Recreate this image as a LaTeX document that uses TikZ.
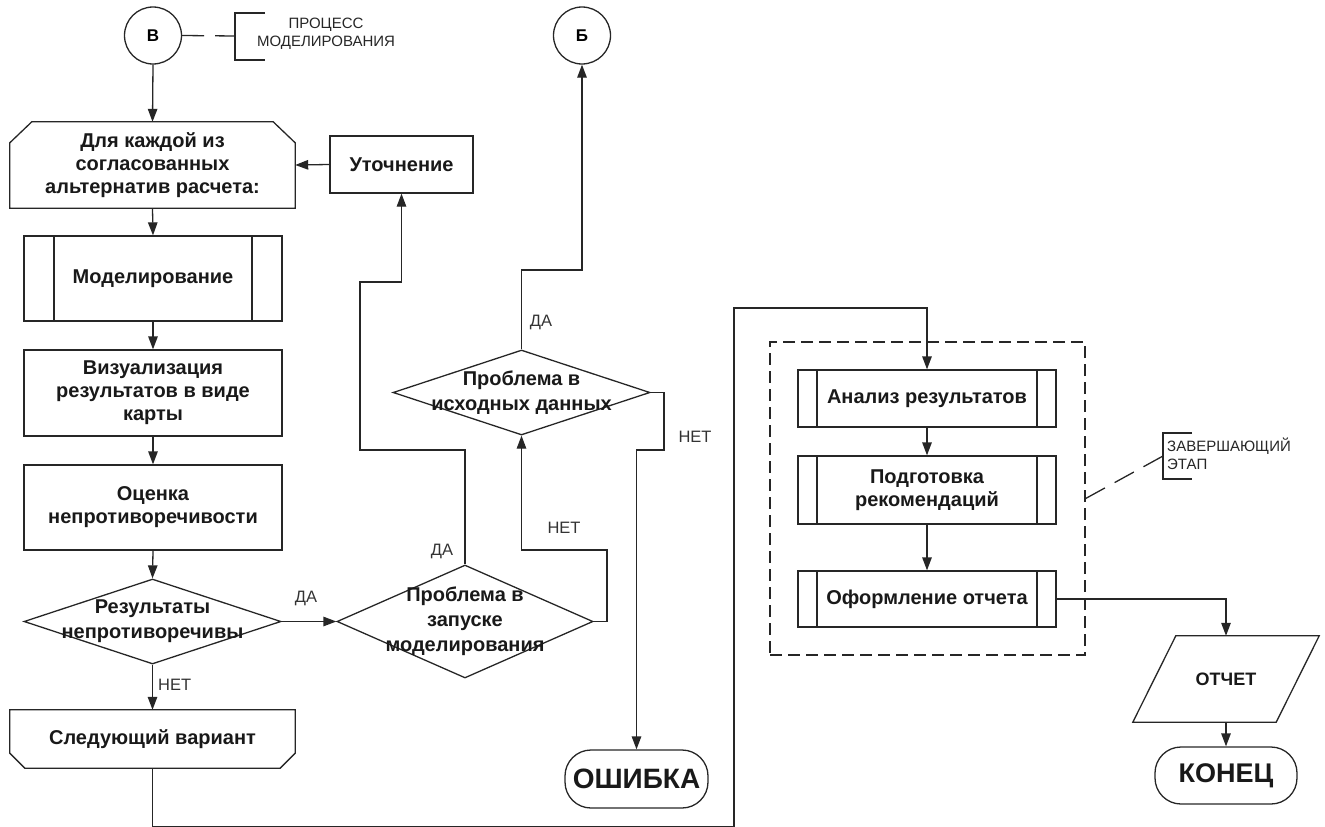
\documentclass[tikz,border=0pt]{standalone}
\usepackage{fontspec}
\setmainfont{Liberation Sans}
\usetikzlibrary{arrows.meta,shapes.geometric}
\begin{document}
\begin{tikzpicture}[x=1pt,y=-1pt,
  ln/.style={line width=1.3pt, draw=black!85},
  arr/.style={ln, -{Triangle[length=13pt,width=9.5pt]}},
  bt/.style={font=\bfseries\fontsize{20}{23}\selectfont, align=center, text=black!90},
  box/.style={bt, rectangle, ln, inner sep=0pt},
  nobox/.style={bt, rectangle, draw=none, inner sep=0pt},
  pp/.style={box, path picture={
     \draw[line width=1.3pt,draw=black!85] ([xshift=#1]path picture bounding box.north west) -- ([xshift=#1]path picture bounding box.south west);
     \draw[line width=1.3pt,draw=black!85] ([xshift=-#1]path picture bounding box.north east) -- ([xshift=-#1]path picture bounding box.south east);}},
  dia/.style={diamond, ln, inner sep=0pt, aspect=1},
  term/.style={box, rounded corners=26pt},
  conn/.style={circle, ln, inner sep=0pt, minimum size=57pt, font=\bfseries\fontsize{17}{20}\selectfont},
  lab/.style={font=\fontsize{16.5}{19}\selectfont, text=black!80, inner sep=0pt},
  ann/.style={font=\fontsize{15}{18}\selectfont, text=black!85, inner sep=0pt},
  grpbox/.style={rectangle, ln, dash pattern=on 12pt off 6pt, inner sep=0pt},
  anndash/.style={ln, dash pattern=on 22pt off 11pt}
]
\useasboundingbox (0,0) rectangle (1325,827);

% connectors circles
\node[conn] (cB) at (153,35.5) {В};
\node[conn] (cBe) at (582,35.5) {Б};

% annotation for В
\node[ann, align=center] (annB) at (326,34) {ПРОЦЕСС\\МОДЕЛИРОВАНИЯ};
\coordinate (brB) at (235,36);
\draw[anndash] (cB.east) -- (brB);
\draw[ln] (265,13) -- (235,13) -- (235,60) -- (265,60);

% left column
\node[nobox, minimum width=285pt, minimum height=86pt] (loop1) at (152.5,165) {Для каждой из\\согласованных\\альтернатив расчета:};
\draw[ln] ([yshift=-21pt]loop1.north west) -- ([xshift=22pt]loop1.north west) -- ([xshift=-22pt]loop1.north east) -- ([yshift=-21pt]loop1.north east) -- (loop1.south east) -- (loop1.south west) -- cycle;

\node[box, minimum width=143pt, minimum height=57pt] (uto) at (401.5,164.5) {Уточнение};
\node[pp=30pt, minimum width=258pt, minimum height=85pt] (mod) at (153,278.5) {Моделирование};
\node[box, minimum width=258pt, minimum height=86pt] (viz) at (153,393) {Визуализация\\результатов в виде\\карты};
\node[box, minimum width=258pt, minimum height=85pt] (ots) at (153,507.5) {Оценка\\непротиворечивости};
\node[dia, minimum width=257pt, minimum height=85pt] (d0) at (152.5,621.5) {};
\node[bt, align=center, inner sep=0pt, font=\bfseries\fontsize{20}{25}\selectfont] at (d0.center) {Результаты\\непротиворечивы};

\node[nobox, minimum width=285pt, minimum height=58pt] (nxt) at (152.5,739) {Следующий вариант};
\draw[ln] (nxt.north west) -- (nxt.north east) -- ([yshift=15pt]nxt.south east) -- ([xshift=-15pt]nxt.south east) -- ([xshift=15pt]nxt.south west) -- ([yshift=15pt]nxt.south west) -- cycle;

% middle diamonds
\node[dia, minimum width=256pt, minimum height=113pt] (d2) at (465,621.5) {};
\node[bt, inner sep=0pt, font=\bfseries\fontsize{20}{25}\selectfont] at (d2.center) {Проблема в\\запуске\\моделирования};
\node[dia, minimum width=257pt, minimum height=85pt] (d1) at (521.5,392.5) {};
\node[bt, inner sep=0pt, font=\bfseries\fontsize{20}{25}\selectfont] at (d1.center) {Проблема в\\исходных данных};

\node[term, minimum width=143pt, minimum height=58pt, font=\bfseries\fontsize{28}{30}\selectfont] (err) at (636.5,779) {ОШИБКА};

% right group
\node[grpbox, minimum width=315pt, minimum height=313pt] (grp) at (927.5,498.5) {};
\node[pp=19pt, minimum width=258pt, minimum height=57pt] (an) at (927,398.5) {Анализ результатов};
\node[pp=19pt, minimum width=258pt, minimum height=68pt] (pod) at (927,490) {Подготовка\\рекомендаций};
\node[pp=19pt, minimum width=258pt, minimum height=56pt] (ofo) at (927,599) {Оформление отчета};

\node[ann, align=left, anchor=west] (annE) at (1167,454) {ЗАВЕРШАЮЩИЙ\\ЭТАП};
\coordinate (brE) at (1163,456);
\draw[anndash] (grp.east) -- (brE);
\draw[ln] (1192,433) -- (1163,433) -- (1163,479) -- (1192,479);

\node[nobox, minimum width=143pt, minimum height=86pt, font=\bfseries\fontsize{18}{20}\selectfont] (rep) at (1226,679) {ОТЧЕТ};
\draw[ln] ([xshift=21.5pt]rep.north west) -- ([xshift=21.5pt]rep.north east) -- ([xshift=-21.5pt]rep.south east) -- ([xshift=-21.5pt]rep.south west) -- cycle;
\node[term, minimum width=142pt, minimum height=57pt, font=\bfseries\fontsize{27}{30}\selectfont] (fin) at (1226,775.5) {КОНЕЦ};

% arrows
\draw[arr] (cB.south) -- (loop1.north);
\draw[arr] (uto.west) -- (loop1.east);
\draw[arr] (loop1.south) -- (mod.north);
\draw[arr] (mod.south) -- (viz.north);
\draw[arr] (viz.south) -- (ots.north);
\draw[arr] (ots.south) -- (d0.north);
\draw[arr] (d0.south) -- node[lab, anchor=west, pos=0.45, xshift=5pt] {НЕТ} (nxt.north);
\draw[arr] (d0.east) -- (d2.west);
\node[lab] at (306,598) {ДА};
\draw[arr] (d2.north) |- (360,450) -- (360,282) -| (uto.south);
\node[lab] at (442,551) {ДА};
\draw[arr] (d2.east) -- (607,621.5) -- (607,550) -| (d1.south);
\node[lab] at (564,528) {НЕТ};
\draw[arr] (d1.north) -- (521.5,270) -| (cBe.south);
\node[lab] at (541,322) {ДА};
\draw[arr] (d1.east) -- (664,392.5) -- (664,450) -| (err.north);
\node[lab] at (695,437) {НЕТ};
\draw[arr] (nxt.south) -- (152.5,826.8) -- (734,826.8) -- (734,308) -| (an.north);
\draw[arr] (an.south) -- (pod.north);
\draw[arr] (pod.south) -- (ofo.north);
\draw[arr] (ofo.east) -| (rep.north);
\draw[arr] (rep.south) -- (fin.north);
\end{tikzpicture}
\end{document}
